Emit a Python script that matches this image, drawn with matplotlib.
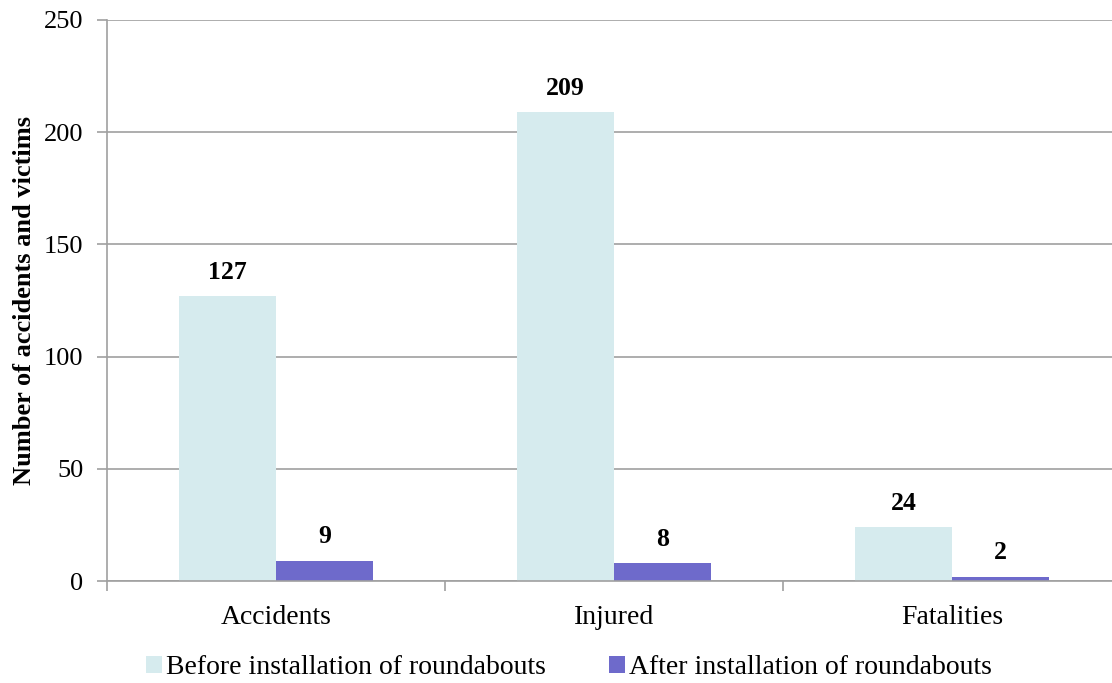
import matplotlib
matplotlib.use('Agg')
import matplotlib.pyplot as plt
import numpy as np

plt.rcParams.update({'font.family': 'Liberation Serif', 'font.size': 19})

categories = ['Accidents', 'Injured', 'Fatalities']
before = [127, 209, 24]
after = [9, 8, 2]
series_names = ['Before installation of roundabouts', 'After installation of roundabouts']
yticks = [0, 50, 100, 150, 200, 250]

color_before = '#D6EBEE'
color_after = '#6E6ACB'
grid_color = '#A0A0A0'

fig = plt.figure(figsize=(11.12, 6.83), dpi=100)
ax = fig.add_axes([107/1112, 1-581/683, (1121-107)/1112, (581-20)/683])

ind = np.arange(len(categories))
w = 0.287
rb = ax.bar(ind - w/2, before, w, color=color_before, label=series_names[0], zorder=2)
ra = ax.bar(ind + w/2, after, w, color=color_after, label=series_names[1], zorder=2)

for rects in (rb, ra):
    for r in rects:
        h = r.get_height()
        ax.annotate('{}'.format(int(h)), xy=(r.get_x()+r.get_width()/2, h),
                    xytext=(0, 9), textcoords='offset points',
                    ha='center', va='bottom', fontweight='bold', fontsize=18.5)

ax.set_xlim(-0.5, 2.5)
ax.set_ylim(0, 250)
ax.set_yticks(yticks)
ax.yaxis.grid(True, color=grid_color, linewidth=1.2, zorder=0)
ax.set_axisbelow(True)

ax.set_xticks(ind)
ax.set_xticklabels(categories, fontsize=20)
ax.set_xticks([-0.5, 0.5, 1.5], minor=True)
ax.tick_params(axis='x', which='major', length=0, pad=17)
ax.tick_params(axis='x', which='minor', length=7, color=grid_color, width=1.2)
ax.tick_params(axis='y', length=7, color=grid_color, width=1.2, pad=10)

for s in ['top', 'right']:
    ax.spines[s].set_visible(False)
for s in ['left', 'bottom']:
    ax.spines[s].set_color(grid_color)
    ax.spines[s].set_linewidth(1.2)

ax.set_ylabel('Number of accidents and victims', fontweight='bold', fontsize=19, labelpad=6)

fig.legend(handles=[rb, ra], loc='center', bbox_to_anchor=(569/1112, 1-668/683),
           ncol=2, frameon=False, handlelength=0.55, handleheight=0.55,
           handletextpad=0.15, columnspacing=2.3, fontsize=20)

plt.savefig('out.png', dpi=100)
